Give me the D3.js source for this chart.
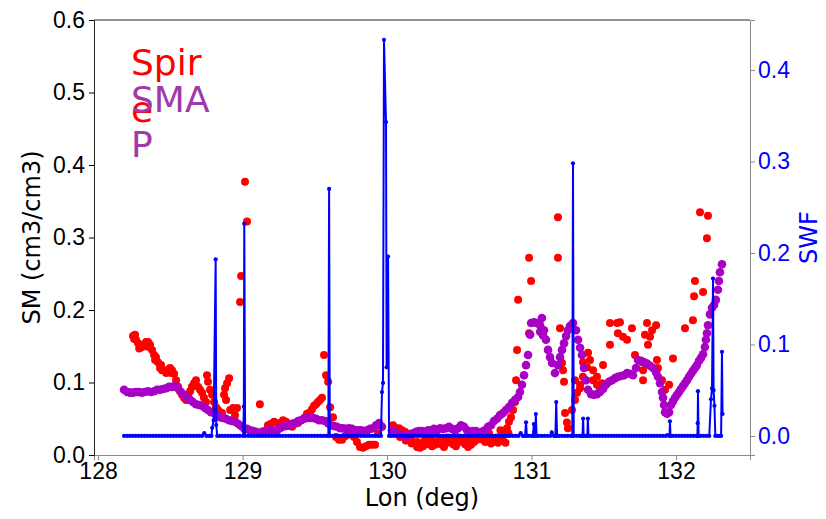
<!DOCTYPE html>
<html>
<head>
<meta charset="utf-8">
<script src="https://cdn.jsdelivr.net/npm/d3@7"></script>
<style>
  body { margin: 0; background: #fff; }
  svg { font-family: "DejaVu Sans", sans-serif; }
</style>
</head>
<body>
<div id="chart"></div>
<script>
// Spire soil moisture points [lon, SM]
const spirePoints = [
  [128.242,0.164],[128.256,0.166],[128.263,0.159],[128.277,0.154],[128.291,0.152],[128.304,0.149],
  [128.318,0.150],[128.332,0.156],[128.346,0.156],[128.360,0.152],[128.374,0.145],[128.388,0.138],
  [128.401,0.135],[128.415,0.128],[128.429,0.120],[128.443,0.117],[128.457,0.117],[128.471,0.113],
  [128.484,0.117],[128.498,0.120],[128.512,0.117],[128.526,0.112],[128.540,0.103],[128.554,0.094],
  [128.567,0.088],[128.581,0.083],[128.595,0.079],[128.609,0.076],[128.623,0.083],[128.637,0.088],
  [128.650,0.094],[128.664,0.099],[128.678,0.103],[128.692,0.094],[128.706,0.090],[128.720,0.086],
  [128.733,0.079],[128.747,0.073],[128.754,0.110],[128.761,0.101],[128.775,0.090],[128.789,0.083],
  [128.803,0.073],[128.816,0.066],[128.830,0.062],[128.844,0.059],[128.858,0.058],[128.872,0.083],
  [128.879,0.092],[128.893,0.099],[128.907,0.106],[128.886,0.076],[128.914,0.062],[128.934,0.065],
  [128.948,0.055],[128.962,0.065],[128.983,0.211],[128.990,0.247],[129.017,0.377],[129.031,0.322],
  [128.250,0.160],[128.285,0.147],[128.352,0.149],[128.395,0.131],[128.436,0.124],[128.505,0.113],
  [129.120,0.070],
  [129.176,0.041],[129.197,0.043],[129.218,0.046],[129.239,0.044],[129.259,0.041],[129.280,0.048],
  [129.301,0.046],[129.322,0.040],[129.343,0.039],[129.363,0.043],[129.384,0.044],[129.405,0.048],
  [129.426,0.051],[129.446,0.057],[129.467,0.059],[129.481,0.063],[129.495,0.068],[129.509,0.070],
  [129.522,0.073],[129.536,0.076],[129.550,0.079],[129.564,0.138],[129.578,0.110],[129.592,0.101],
  [129.606,0.066],[129.626,0.052],[129.647,0.025],[129.668,0.021],[129.689,0.021],[129.709,0.026],
  [129.730,0.028],[129.751,0.030],[129.772,0.025],[129.792,0.018],[129.813,0.011],[129.834,0.010],
  [129.855,0.012],[129.875,0.014],[129.896,0.014],[129.917,0.014],[129.938,0.030],
  [130.041,0.041],[130.062,0.037],[130.083,0.037],[130.104,0.034],[130.124,0.032],[130.145,0.026],
  [130.166,0.021],[130.187,0.017],[130.208,0.011],[130.228,0.010],[130.249,0.012],[130.270,0.015],
  [130.290,0.017],[130.311,0.012],[130.332,0.014],[130.353,0.019],[130.374,0.015],[130.394,0.011],
  [130.415,0.017],[130.436,0.021],[130.457,0.015],[130.477,0.012],[130.498,0.018],[130.519,0.021],
  [130.540,0.015],[130.561,0.011],[130.581,0.014],[130.602,0.018],[130.623,0.021],[130.644,0.023],
  [130.664,0.021],[130.685,0.026],[130.706,0.030],[130.727,0.023],[130.747,0.019],[130.768,0.017],
  [130.789,0.021],[130.810,0.028],
  [130.050,0.030],[130.090,0.025],[130.130,0.020],[130.170,0.016],[130.210,0.018],[130.260,0.020],
  [130.300,0.022],[130.340,0.018],[130.380,0.022],[130.420,0.024],[130.460,0.020],[130.500,0.024],
  [130.550,0.020],[130.590,0.023],[130.630,0.027],[130.680,0.018],[130.720,0.016],[130.760,0.024],
  [130.800,0.020],[130.840,0.030],[130.785,0.034],[130.820,0.017],
  [130.830,0.037],[130.844,0.046],[130.858,0.052],[130.872,0.062],[130.886,0.073],[130.893,0.103],
  [130.900,0.145],[130.907,0.214],[130.983,0.272],[130.997,0.240],[130.983,0.168],
  [131.183,0.328],[131.183,0.272],[131.197,0.175],[131.211,0.127],[131.218,0.117],[131.225,0.101],
  [131.232,0.058],[131.245,0.045],[131.252,0.037],[131.280,0.062],[131.301,0.076],[131.301,0.103],
  [131.315,0.086],[131.336,0.097],[131.336,0.092],[131.356,0.108],[131.356,0.128],[131.384,0.121],
  [131.391,0.141],[131.405,0.131],[131.426,0.117],[131.426,0.103],[131.453,0.097],[131.453,0.108],
  [131.474,0.090],[131.495,0.124],[131.488,0.099],[131.543,0.152],[131.543,0.182],[131.592,0.182],
  [131.598,0.168],[131.612,0.183],[131.633,0.163],[131.661,0.159],[131.695,0.175],[131.716,0.138],
  [131.765,0.128],[131.772,0.117],[131.772,0.103],[131.799,0.182],[131.785,0.166],[131.806,0.152],
  [131.820,0.163],[131.834,0.172],[131.862,0.179],[131.868,0.131],[131.875,0.120],[131.903,0.103],
  [131.924,0.090],[131.952,0.097],[131.979,0.133],[132.062,0.175],[132.117,0.186],[132.125,0.219],
  [132.131,0.240],[132.187,0.225],[132.166,0.335],[132.221,0.330],[132.214,0.299]
];

// SMAP soil moisture points [lon, SM]
const smapPoints = [
  [128.180,0.090],[128.201,0.087],[128.221,0.086],[128.242,0.086],[128.263,0.087],[128.284,0.087],
  [128.304,0.086],[128.325,0.087],[128.346,0.088],[128.367,0.087],[128.388,0.088],[128.408,0.090],
  [128.429,0.090],[128.450,0.091],[128.471,0.092],[128.491,0.094],[128.512,0.094],[128.533,0.095],
  [128.554,0.092],[128.574,0.087],[128.595,0.083],[128.616,0.079],[128.637,0.076],[128.657,0.073],
  [128.678,0.070],[128.699,0.069],[128.720,0.068],[128.740,0.065],[128.761,0.062],[128.782,0.059],
  [128.803,0.058],[128.823,0.055],[128.844,0.052],[128.865,0.051],[128.886,0.050],[128.907,0.048],
  [128.927,0.047],[128.948,0.046],[128.969,0.043],[128.990,0.040],[129.010,0.037],[129.031,0.036],
  [129.052,0.034],[129.073,0.033],[129.093,0.032],[129.114,0.030],[129.135,0.032],[129.156,0.033],
  [129.176,0.034],[129.197,0.034],[129.218,0.033],[129.239,0.034],[129.259,0.037],[129.280,0.039],
  [129.301,0.040],[129.322,0.041],[129.343,0.043],[129.363,0.044],[129.384,0.047],[129.405,0.048],
  [129.426,0.050],[129.446,0.051],[129.467,0.051],[129.488,0.051],[129.509,0.050],[129.529,0.048],
  [129.550,0.048],[129.571,0.047],[129.592,0.044],[129.612,0.041],[129.633,0.040],[129.654,0.039],
  [129.675,0.037],[129.695,0.037],[129.716,0.036],[129.737,0.037],[129.758,0.036],[129.778,0.034],
  [129.799,0.034],[129.820,0.034],[129.841,0.033],[129.862,0.034],[129.882,0.036],[129.903,0.037],
  [129.924,0.041],[129.945,0.044],[129.965,0.039],
  [130.034,0.034],[130.055,0.032],[130.076,0.029],[130.097,0.028],[130.118,0.026],[130.138,0.026],
  [130.159,0.029],[130.180,0.030],[130.201,0.032],[130.221,0.033],[130.242,0.033],[130.263,0.032],
  [130.284,0.034],[130.304,0.034],[130.325,0.036],[130.346,0.034],[130.367,0.037],[130.388,0.036],
  [130.408,0.037],[130.429,0.039],[130.450,0.036],[130.471,0.034],[130.491,0.037],[130.512,0.041],
  [130.533,0.039],[130.554,0.034],[130.574,0.032],[130.595,0.033],[130.616,0.033],[130.637,0.030],
  [130.657,0.032],[130.678,0.034],[130.699,0.039],[130.720,0.041],[130.740,0.047],[130.761,0.050],
  [130.782,0.055],[130.803,0.058],[130.823,0.062],[130.844,0.066],[130.865,0.072],[130.886,0.076],
  [130.907,0.080],[130.920,0.087],[130.934,0.097],[130.948,0.110],[130.962,0.124],[130.976,0.138],
  [130.990,0.166],[130.997,0.182],[131.017,0.183],[131.038,0.182],[131.059,0.179],[131.072,0.189],
  [131.060,0.170],[131.080,0.165],
  [131.086,0.172],[131.100,0.159],[131.114,0.145],[131.128,0.135],[131.142,0.127],[131.162,0.113],
  [131.183,0.124],[131.197,0.135],[131.211,0.145],[131.225,0.154],[131.239,0.164],[131.252,0.172],
  [131.266,0.178],[131.287,0.182],[131.308,0.172],[131.322,0.159],[131.336,0.148],[131.349,0.138],
  [131.363,0.120],[131.377,0.103],[131.391,0.090],[131.412,0.084],[131.432,0.083],[131.453,0.084],
  [131.474,0.087],[131.495,0.091],[131.515,0.097],[131.536,0.101],[131.557,0.103],[131.578,0.106],
  [131.598,0.108],[131.619,0.109],[131.640,0.110],[131.661,0.113],[131.681,0.112],[131.702,0.110],
  [131.723,0.120],[131.737,0.131],[131.758,0.130],[131.779,0.128],[131.799,0.126],[131.820,0.123],
  [131.841,0.120],[131.862,0.114],[131.875,0.108],[131.889,0.099],[131.903,0.087],[131.910,0.079],
  [131.917,0.069],[131.924,0.059],[131.938,0.057],[131.952,0.059],[131.965,0.069],[131.979,0.074],
  [131.993,0.079],[132.007,0.083],[132.021,0.087],[132.034,0.091],[132.048,0.095],[132.062,0.099],
  [132.076,0.103],[132.090,0.108],[132.104,0.112],[132.117,0.116],[132.131,0.120],[132.145,0.124],
  [132.159,0.130],[132.173,0.134],[132.187,0.139],[132.200,0.149],[132.207,0.159],[132.214,0.168],
  [132.221,0.179],[132.235,0.194],[132.249,0.203],[132.263,0.207],[132.276,0.214],[132.290,0.228],
  [132.297,0.240],[132.304,0.252],[132.318,0.263]
];

// SWF line points [lon, SWF], in track order
const swfPoints = [
  [128.18,0],[128.20,0],[128.22,0],[128.24,0],[128.26,0],[128.28,0],[128.30,0],[128.32,0],
  [128.34,0],[128.36,0],[128.38,0],[128.40,0],[128.42,0],[128.44,0],[128.46,0],[128.48,0],
  [128.50,0],[128.52,0],[128.54,0],[128.56,0],[128.58,0],[128.60,0],[128.62,0],[128.64,0],
  [128.66,0],[128.68,0],[128.70,0],[128.72,0],[128.735,0.003],[128.75,0],[128.77,0],
  [128.785,0],[128.79,0.009],[128.80,0.017],[128.814,0.193],[128.818,0.012],[128.825,0],
  [128.84,0],[128.86,0],[128.88,0],[128.90,0],[128.92,0],[128.94,0],[128.96,0],[128.98,0],
  [129.003,0],[129.006,0.010],[129.009,0.032],[129.012,0.232],[129.018,0],[129.04,0],[129.06,0],
  [129.08,0],[129.10,0],[129.12,0],[129.14,0],[129.16,0],[129.18,0],[129.20,0],[129.22,0],
  [129.24,0],[129.26,0],[129.28,0],[129.30,0],[129.32,0],[129.34,0],[129.36,0],[129.38,0],
  [129.40,0],[129.42,0],[129.44,0],[129.46,0],[129.48,0],[129.50,0],[129.52,0],[129.54,0],
  [129.56,0],[129.58,0],[129.594,0],[129.599,0.270],[129.604,0],[129.62,0],[129.64,0],[129.66,0],
  [129.68,0],[129.70,0],[129.72,0],[129.74,0],[129.76,0],[129.78,0],[129.80,0],[129.82,0],
  [129.84,0],[129.86,0],[129.88,0],[129.90,0],[129.92,0],[129.94,0],[129.958,0],[129.965,0.048],
  [129.972,0.058],[129.979,0.433],[129.993,0.343],[129.997,0.075],[130.007,0.196],[130.014,0],
  [130.03,0],[130.05,0],[130.07,0],[130.09,0],[130.11,0],[130.13,0],[130.15,0],[130.17,0],
  [130.19,0],[130.21,0],[130.23,0],[130.25,0],[130.27,0],[130.29,0],[130.31,0],[130.33,0],
  [130.35,0],[130.37,0],[130.39,0],[130.41,0],[130.43,0],[130.45,0],[130.47,0],[130.49,0],
  [130.51,0],[130.53,0],[130.55,0],[130.57,0],[130.59,0],[130.61,0],[130.63,0],[130.65,0],
  [130.67,0],[130.69,0],[130.71,0],[130.73,0],[130.75,0],[130.77,0],[130.79,0],[130.81,0],
  [130.83,0],[130.85,0],[130.87,0],[130.89,0],[130.91,0],[130.925,0.003],[130.94,0],[130.955,0],
  [130.962,0.015],[130.968,0],[130.98,0],[131.00,0],[131.01,0],[131.016,0.013],[131.02,0.005],
  [131.025,0],[131.030,0.024],[131.035,0],[131.05,0],[131.07,0],[131.09,0],[131.11,0],[131.13,0],
  [131.14,0.004],[131.155,0],[131.165,0],[131.171,0.037],[131.177,0],[131.19,0],[131.21,0],
  [131.23,0],[131.25,0],[131.27,0],[131.282,0],[131.287,0.298],[131.292,0],[131.31,0],[131.33,0],
  [131.345,0],[131.353,0],[131.357,0.019],[131.361,0],[131.375,0],[131.386,0],[131.390,0.019],
  [131.394,0],[131.41,0],[131.43,0],[131.45,0],[131.47,0],[131.49,0],[131.51,0],[131.53,0],
  [131.55,0],[131.57,0],[131.59,0],[131.61,0],[131.63,0],[131.65,0],[131.67,0],[131.69,0],
  [131.71,0],[131.73,0],[131.75,0],[131.77,0],[131.79,0],[131.81,0],[131.83,0],[131.85,0],
  [131.87,0],[131.89,0],[131.91,0],[131.93,0],[131.94,0.001],[131.955,0],[131.958,0.016],
  [131.962,0],[131.98,0],[132.00,0],[132.02,0],[132.04,0],[132.06,0],[132.08,0],[132.10,0],
  [132.12,0],[132.14,0],[132.148,0],[132.150,0.014],[132.152,0.049],[132.156,0],[132.17,0],
  [132.19,0],[132.21,0],[132.23,0],[132.242,0.040],[132.249,0.052],[132.256,0.172],
  [132.260,0.050],[132.266,0.033],[132.272,0],[132.285,0],[132.30,0],[132.312,0],
  [132.318,0.092],[132.322,0.024]
];

const xTicks = [128, 129, 130, 131, 132];
const smTicks = [0, 0.1, 0.2, 0.3, 0.4, 0.5, 0.6];
const swfTicks = [0, 0.1, 0.2, 0.3, 0.4];
const legendSpire = ["Spir", "e"];
const legendSmap = ["SMA", "P"];

const W = 826, H = 519;
const margin = {top: 20, right: 76, bottom: 64, left: 94};
const plotW = W - margin.left - margin.right;
const plotH = H - margin.top - margin.bottom;

const red = "#ff0000", purple = "#a800c4", blue = "#0000ff";

const svg = d3.select("#chart").append("svg")
  .attr("width", W).attr("height", H);

const g = svg.append("g")
  .attr("transform", `translate(${margin.left},${margin.top})`);

const x = d3.scaleLinear().domain([127.972, 132.512]).range([0, plotW]);
const ySM = d3.scaleLinear().domain([0, 0.6]).range([plotH, 0]);
const ySWF = d3.scaleLinear().domain([-0.0208, 0.4546]).range([plotH, 0]);

// Spire scatter
g.append("g").selectAll("circle")
  .data(spirePoints).enter().append("circle")
  .attr("cx", d => x(d[0])).attr("cy", d => ySM(d[1]))
  .attr("r", 4).attr("fill", red);

// SMAP scatter
g.append("g").selectAll("circle")
  .data(smapPoints).enter().append("circle")
  .attr("cx", d => x(d[0])).attr("cy", d => ySM(d[1]))
  .attr("r", 4.3).attr("fill", purple);

// SWF line with markers (twin axis, drawn on top)
const line = d3.line().x(d => x(d[0])).y(d => ySWF(d[1]));
g.append("path").datum(swfPoints)
  .attr("d", line).attr("fill", "none")
  .attr("stroke", blue).attr("stroke-width", 2);
g.append("g").selectAll("circle")
  .data(swfPoints).enter().append("circle")
  .attr("cx", d => x(d[0])).attr("cy", d => ySWF(d[1]))
  .attr("r", 2.1).attr("fill", blue);

// Axes
const xAxis = g.append("g")
  .attr("transform", `translate(0,${plotH})`)
  .call(d3.axisBottom(x).tickValues(xTicks).tickFormat(d3.format("d")).tickSize(5).tickPadding(3));
xAxis.select(".domain").attr("stroke", "#888");
xAxis.selectAll(".tick line").attr("stroke", "#888");
xAxis.selectAll("text").attr("font-size", 23).attr("fill", "#000");

const yLeft = g.append("g")
  .call(d3.axisLeft(ySM).tickValues(smTicks).tickFormat(d3.format(".1f")).tickSize(5).tickPadding(4));
yLeft.select(".domain").attr("stroke", "#222");
yLeft.selectAll("text").attr("font-size", 23).attr("fill", "#000");

const yRight = g.append("g")
  .attr("transform", `translate(${plotW},0)`)
  .call(d3.axisRight(ySWF).tickValues(swfTicks).tickFormat(d3.format(".1f")).tickSize(5).tickPadding(3));
yRight.select(".domain").attr("stroke", "#888");
yRight.selectAll(".tick line").attr("stroke", "#888");
yRight.selectAll("text").attr("font-size", 23).attr("fill", blue);

// top spine
g.append("line").attr("x1", 0).attr("x2", plotW).attr("y1", 0).attr("y2", 0)
  .attr("stroke", "#222");

// Axis titles
svg.append("text")
  .attr("x", margin.left + plotW / 2).attr("y", 506)
  .attr("text-anchor", "middle").attr("font-size", 24)
  .text("Lon (deg)");

svg.append("text")
  .attr("transform", `translate(40,${margin.top + plotH / 2}) rotate(-90)`)
  .attr("text-anchor", "middle").attr("font-size", 24)
  .text("SM (cm3/cm3)");

svg.append("text")
  .attr("transform", `translate(817,${margin.top + plotH / 2}) rotate(-90)`)
  .attr("text-anchor", "middle").attr("font-size", 24).attr("fill", blue)
  .text("SWF");

// Legend-like labels (wrapped text as in the original)
const legend = svg.append("g").attr("font-size", 36);
legendSpire.forEach((t, i) => {
  legend.append("text").attr("x", 131).attr("y", 75 + i * 47)
    .attr("fill", red).text(t);
});
legendSmap.forEach((t, i) => {
  legend.append("text").attr("x", 131).attr("y", 112 + i * 45)
    .attr("fill", "#a03aaa").text(t);
});
</script>
</body>
</html>
